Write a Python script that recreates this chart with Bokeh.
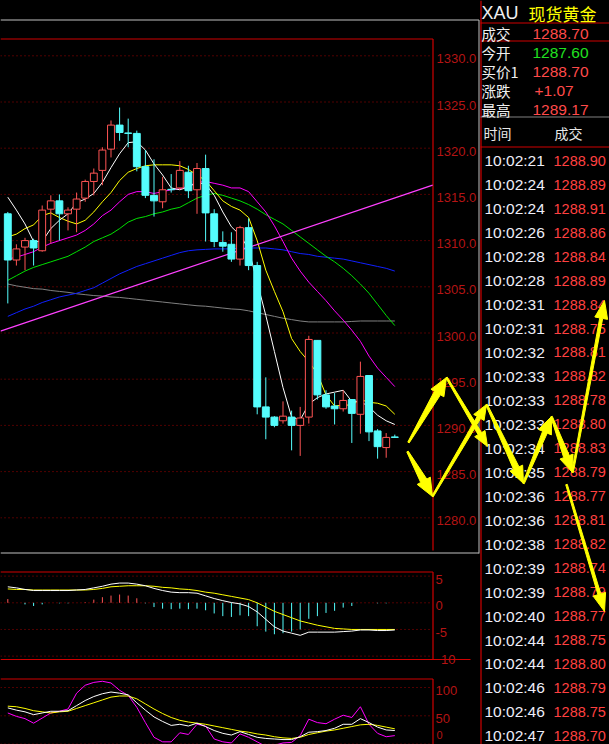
import numpy as np
from bokeh.plotting import figure
from bokeh.models import Range1d, GlobalInlineStyleSheet
from bokeh.core.properties import value
from bokeh.embed import file_html
from bokeh.resources import INLINE

# ---------------- data ----------------
bar_index = list(range(46))
opens = [1312.9, 1307.9, 1309.3, 1310.0, 1308.9, 1313.4, 1314.3, 1312.9, 1313.4, 1314.6,
         1316.4, 1317.6, 1319.9, 1322.5, 1321.65, 1321.6, 1318.0, 1314.9, 1314.2, 1315.55,
         1315.7, 1317.4, 1315.5, 1317.8, 1312.9, 1309.8, 1309.6, 1308.0, 1311.4, 1307.3,
         1292.0, 1290.9, 1290.5, 1290.9, 1290.0, 1290.9, 1299.2, 1293.3, 1292.1, 1291.8,
         1292.8, 1291.2, 1295.4, 1289.4, 1287.6, 1288.75]
closes = [1307.9, 1309.1, 1310.0, 1309.2, 1313.3, 1314.3, 1312.9, 1313.3, 1314.5, 1316.4,
          1317.3, 1319.8, 1322.5, 1321.7, 1321.6, 1318.0, 1314.9, 1314.3, 1315.5, 1315.5,
          1317.6, 1315.4, 1317.8, 1313.0, 1309.9, 1309.4, 1308.0, 1311.4, 1307.3, 1292.0,
          1290.9, 1290.0, 1291.0, 1290.0, 1290.8, 1299.3, 1293.3, 1292.0, 1291.8, 1292.7,
          1291.3, 1295.3, 1289.3, 1287.7, 1288.7, 1288.7]
highs = [1313.1, 1309.6, 1310.3, 1310.2, 1313.8, 1314.9, 1315.0, 1313.6, 1315.2, 1316.6,
         1317.8, 1320.1, 1323.0, 1324.4, 1323.2, 1321.9, 1319.8, 1318.8, 1316.9, 1317.2,
         1318.6, 1318.1, 1318.4, 1319.3, 1313.4, 1311.0, 1310.9, 1311.6, 1312.4, 1307.7,
         1295.2, 1291.0, 1292.6, 1291.6, 1292.0, 1299.7, 1299.2, 1293.8, 1293.5, 1293.8,
         1292.8, 1296.9, 1295.4, 1289.6, 1289.17, 1289.0]
lows = [1303.2, 1307.3, 1306.8, 1307.3, 1308.8, 1309.7, 1310.0, 1311.1, 1310.9, 1314.2,
        1314.9, 1316.0, 1319.0, 1320.8, 1320.1, 1317.5, 1314.6, 1312.6, 1313.5, 1315.2,
        1315.5, 1314.6, 1312.9, 1309.9, 1309.3, 1308.8, 1307.7, 1307.3, 1306.8, 1291.2,
        1288.5, 1289.8, 1290.2, 1287.3, 1286.7, 1290.2, 1292.8, 1291.8, 1290.1, 1291.5,
        1288.1, 1289.1, 1288.3, 1286.4, 1286.5, 1288.7]

ma5 = [1314.7, 1313.3, 1311.8, 1309.9, 1309.9, 1311.3, 1312.2, 1312.9, 1314.1, 1314.5,
       1315.1, 1316.3, 1317.9, 1319.4, 1320.6, 1320.7, 1319.8, 1318.3, 1317.1, 1315.7,
       1315.5, 1315.8, 1316.3, 1316.1, 1314.9, 1313.1, 1311.5, 1310.6, 1309.1, 1305.5,
       1301.9, 1298.0, 1294.1, 1290.9, 1290.6, 1292.3, 1293.0, 1293.4, 1293.6, 1293.8,
       1292.6, 1292.6, 1292.0, 1291.1, 1290.5, 1290.1]
ma10 = [1310.4, 1310.7, 1311.3, 1311.7, 1312.7, 1313.0, 1312.5, 1312.1, 1311.8, 1312.2,
        1313.1, 1314.2, 1315.2, 1316.5, 1317.4, 1317.8, 1318.1, 1318.2, 1318.2, 1318.2,
        1318.1, 1317.7, 1317.1, 1316.5, 1315.4, 1314.3, 1313.7, 1313.3, 1312.5, 1310.0,
        1306.8, 1304.5, 1302.3, 1299.4, 1298.0, 1296.9, 1295.6, 1293.3, 1292.1, 1292.2,
        1292.2, 1292.8, 1292.5, 1292.4, 1292.1, 1291.2]
ma20 = [1308.0, 1308.2, 1308.5, 1308.8, 1309.3, 1309.7, 1310.0, 1310.3, 1310.6, 1311.1,
        1311.8, 1312.7, 1313.3, 1314.2, 1315.0, 1315.3, 1315.3, 1315.1, 1315.3, 1315.5,
        1315.6, 1315.9, 1316.3, 1316.4, 1316.2, 1316.0, 1315.7, 1315.7, 1315.3, 1314.2,
        1313.1, 1311.6, 1309.9, 1308.1, 1306.7, 1305.5, 1304.5, 1303.5, 1302.4, 1301.4,
        1300.3, 1299.1, 1297.5, 1296.2, 1295.2, 1294.2]
ma30 = [1305.7, 1306.2, 1306.7, 1307.1, 1307.4, 1307.7, 1308.0, 1308.3, 1308.8, 1309.3,
        1309.9, 1310.3, 1310.7, 1311.3, 1312.0, 1312.4, 1312.6, 1312.9, 1313.1, 1313.4,
        1313.6, 1314.1, 1314.6, 1314.9, 1315.1, 1314.9, 1314.6, 1314.3, 1313.9, 1313.4,
        1312.8, 1312.3, 1311.8, 1311.1, 1310.4, 1309.7, 1309.0, 1308.3, 1307.7, 1307.0,
        1306.2, 1305.3, 1304.3, 1303.1, 1301.9, 1300.8]
ma60 = [1301.8, 1302.2, 1302.6, 1302.9, 1303.3, 1303.6, 1303.9, 1304.1, 1304.3, 1304.6,
        1304.9, 1305.4, 1305.9, 1306.4, 1306.8, 1307.2, 1307.5, 1307.8, 1308.1, 1308.4,
        1308.7, 1308.9, 1309.0, 1309.05, 1309.1, 1309.1, 1309.1, 1309.2, 1309.2, 1309.2,
        1309.2, 1309.1, 1309.0, 1308.8, 1308.6, 1308.5, 1308.3, 1308.2, 1308.1, 1308.0,
        1307.8, 1307.6, 1307.4, 1307.2, 1307.0, 1306.7]
ma120 = [1305.3, 1305.1, 1304.95, 1304.8, 1304.75, 1304.6, 1304.5, 1304.4, 1304.25, 1304.15,
         1304.05, 1304.0, 1303.9, 1303.85, 1303.75, 1303.65, 1303.55, 1303.45, 1303.35, 1303.25,
         1303.15, 1303.05, 1302.95, 1302.9, 1302.8, 1302.7, 1302.6, 1302.55, 1302.4, 1302.2,
         1302.0, 1301.8, 1301.6, 1301.45, 1301.3, 1301.2, 1301.2, 1301.2, 1301.2, 1301.2,
         1301.25, 1301.3, 1301.3, 1301.3, 1301.3, 1301.3]
trend_x = [-0.85, 49.4]
trend_y = [1300.2, 1316.0]

macd_dif = [3.0, 2.8, 2.5, 2.3, 2.3, 2.3, 2.3, 2.3, 2.4, 2.5,
            2.8, 3.1, 3.5, 3.7, 3.7, 3.5, 3.2, 2.7, 2.3, 2.0,
            1.9, 1.9, 1.8, 1.3, 0.8, 0.4, 0.05, -0.2, -0.7, -1.7,
            -3.1, -4.5, -5.3, -5.7, -6.1, -5.5, -5.5, -5.5, -5.5, -5.4,
            -5.3, -5.1, -5.1, -5.2, -5.2, -5.1]
macd_dea = [2.6, 2.5, 2.5, 2.4, 2.4, 2.4, 2.4, 2.4, 2.4, 2.4,
            2.5, 2.7, 3.0, 3.1, 3.2, 3.2, 3.2, 3.1, 2.9, 2.8,
            2.6, 2.5, 2.3, 2.0, 1.8, 1.5, 1.2, 0.9, 0.6, 0.0,
            -0.8, -1.6, -2.2, -2.8, -3.4, -3.8, -4.2, -4.5, -4.8, -4.9,
            -5.0, -5.0, -5.0, -5.0, -5.0, -5.0]
macd_hist = [0.7, 0.0, -0.3, -0.6, -0.3, 0.0, -0.1, -0.1, 0.0, 0.1,
             0.6, 1.05, 1.35, 1.55, 1.35, 0.85, -0.1, -0.8, -1.1, -1.2,
             -1.1, -1.2, -1.1, -1.4, -2.0, -2.5, -2.65, -2.35, -2.5, -4.4,
             -5.4, -5.9, -5.7, -5.4, -5.0, -3.0, -2.5, -1.9, -1.5, -0.9,
             -0.6, 0.0, 0.0, -0.1, -0.1, 0.0]

kdj_k = [64, 60, 57, 52, 55, 58, 58, 59, 68, 77, 84, 89, 92, 90, 87, 73, 60, 48, 40, 33,
         35, 32, 37, 31, 24, 19, 16, 22, 17, 12, 10, 9, 8, 8, 13, 21, 22, 24, 28, 35,
         35, 45, 38, 30, 25, 24]
kdj_d = [67, 66, 63, 59, 57, 55, 57, 58, 63, 68, 73, 78, 83, 85, 85, 80, 71, 62, 54, 47,
         42, 39, 37, 35, 32, 29, 26, 23, 21, 18, 16, 13, 11, 10, 12, 17, 20, 23, 25, 28,
         31, 34, 35, 33, 30, 27]
kdj_j = [55, 49, 45, 37, 46, 55, 58, 62, 90, 104, 109, 111, 108, 95, 86, 65, 38, 12, 4, 4,
         20, 17, 35, 32, 9, 4, 2, 18, 12, 4, -4, -2, 2, 3, 15, 44, 38, 36, 44, 51,
         47, 66, 35, 19, 13, 15]

price_ticks = [1330, 1325, 1320, 1315, 1310, 1305, 1300, 1295, 1290, 1285, 1280]
price_tick_labels = ["1330.0", "1325.0", "1320.0", "1315.0", "1310.0", "1305.0",
                     "1300.0", "1295.0", "1290.0", "1285.0", "1280.0"]
macd_ticks = [5, 0, -5, -10]
macd_tick_labels = ["5", "0", "-5", "10"]
kdj_ticks = [100, 50, 0]
kdj_tick_labels = ["100", "50", "0"]

symbol = "XAU"
symbol_name = "现货黄金"
quote_labels = ["成交", "今开", "买价1", "涨跌", "最高"]
quote_values = ["1288.70", "1287.60", "1288.70", "+1.07", "1289.17"]
quote_up = [True, False, True, True, True]
list_header = ["时间", "成交"]
tick_times = ["10:02:21", "10:02:24", "10:02:24", "10:02:26", "10:02:28", "10:02:28",
              "10:02:31", "10:02:31", "10:02:32", "10:02:33", "10:02:33", "10:02:33",
              "10:02:34", "10:02:35", "10:02:36", "10:02:36", "10:02:38", "10:02:39",
              "10:02:39", "10:02:40", "10:02:44", "10:02:44", "10:02:46", "10:02:46",
              "10:02:47"]
tick_prices = ["1288.90", "1288.89", "1288.91", "1288.86", "1288.84", "1288.89",
               "1288.84", "1288.75", "1288.81", "1288.82", "1288.78", "1288.80",
               "1288.83", "1288.79", "1288.77", "1288.81", "1288.82", "1288.74",
               "1288.79", "1288.77", "1288.75", "1288.80", "1288.79", "1288.75",
               "1288.70"]

# ---------------- styling ----------------
W, H = 609, 744
RED_UP = "#ff5454"
CYAN_DN = "#54fcfc"
FRAME_RED = "#d00000"
GRID_RED = "#a00000"
LABEL_RED = "#b41414"
GRAY = "#c0c0c0"
NUM_FONT = value("Liberation Sans")
CJK_FONT = value("Noto Sans CJK SC")

css = GlobalInlineStyleSheet(css="html,body{margin:0 !important;padding:0;background:#000;overflow:hidden;}")

p = figure(width=W, height=H, x_range=Range1d(0, W), y_range=Range1d(H, 0),
           output_backend="svg", toolbar_location=None, min_border=0,
           x_axis_location=None, y_axis_location=None,
           background_fill_color="black", border_fill_color="black",
           outline_line_color=None, stylesheets=[css])
p.grid.visible = False

# layout scales (pixel geometry of the original panels)
bx0, bdx = 7.3, 8.6           # bar centre in px
py0, ppu, pref = 55.3, 9.24, 1330.0   # price axis
my0, mpu = 602.3, 5.333       # macd zero & px per unit
ky0, kpu = 743.6, 0.566       # kdj zero & px per unit
ry0, rdy = 160.3, 23.96       # tick list rows
qy0, qdy = 33.3, 19.0         # quote rows

p.extra_x_ranges = {"bar": Range1d(-bx0 / bdx, (W - bx0) / bdx)}
p.extra_y_ranges = {
    "price": Range1d(pref - (H - py0) / ppu, pref + py0 / ppu),
    "macd": Range1d((my0 - H) / mpu, my0 / mpu),
    "kdj": Range1d((ky0 - H) / kpu, ky0 / kpu),
    "rows": Range1d((H - ry0) / rdy, -ry0 / rdy),
    "quote": Range1d((H - qy0) / qdy, -qy0 / qdy),
}

# ---------------- frames / separators ----------------
p.segment(x0=[0, 478.5, 0], y0=[19.5, 19.5, 552.5],
          x1=[478.5, 478.5, 478.5], y1=[19.5, 553, 552.5],
          line_color=GRAY, line_width=1)
# red panel borders
p.segment(x0=[0, 432.5, 0, 432.5, 0, 0, 432.5, 480.5],
          y0=[38.5, 38.5, 571.5, 571.5, 659, 678.5, 678.5, 0],
          x1=[432.5, 432.5, 432.5, 432.5, 470, 432.5, 432.5, 480.5],
          y1=[38.5, 550, 571.5, 659, 659, 678.5, 744, 744],
          line_color=FRAME_RED, line_width=1.2)
# right panel lines
p.segment(x0=[480, 480, 480, 480], y0=[22.5, 40.5, 116.5, 146.5],
          x1=[609, 609, 609, 609], y1=[22.5, 40.5, 116.5, 146.5],
          line_color=[FRAME_RED, FRAME_RED, "#808080", FRAME_RED], line_width=1.2)

# ---------------- gridlines & tick labels ----------------
p.segment(x0=0, x1=430, y0=price_ticks, y1=price_ticks, y_range_name="price",
          line_color=GRID_RED, line_dash="1 3", line_width=1)
p.text(x=436, y=price_ticks, text=price_tick_labels, y_range_name="price",
       text_color=LABEL_RED, text_font=NUM_FONT, text_font_size="13px",
       text_baseline="middle", y_offset=3)

p.segment(x0=0, x1=430, y0=macd_ticks, y1=macd_ticks, y_range_name="macd",
          line_color=GRID_RED, line_dash="1 3", line_width=1)
p.text(x=[435, 435, 435, 440.5], y=macd_ticks, text=macd_tick_labels, y_range_name="macd",
       text_color=LABEL_RED, text_font=NUM_FONT, text_font_size="13px",
       text_baseline="middle", y_offset=3)

p.segment(x0=0, x1=430, y0=kdj_ticks, y1=kdj_ticks, y_range_name="kdj",
          line_color=GRID_RED, line_dash="1 3", line_width=1)
p.text(x=435, y=kdj_ticks[:2], text=kdj_tick_labels[:2], y_range_name="kdj",
       text_color=LABEL_RED, text_font=NUM_FONT, text_font_size="13px",
       text_baseline="middle", y_offset=3)
p.text(x=436, y=kdj_ticks[2:], text=kdj_tick_labels[2:], y_range_name="kdj",
       text_color=LABEL_RED, text_font=NUM_FONT, text_font_size="11px",
       text_baseline="bottom", y_offset=-5)

# ---------------- moving averages & trend line ----------------
ma_sets = [(ma120, "#808080"), (ma60, "#1020ff"), (ma30, "#00e000"),
           (ma20, "#ff00ff"), (ma10, "#ffff00"), (ma5, "#ffffff")]
for vals, col in ma_sets:
    p.line(bar_index, vals, x_range_name="bar", y_range_name="price",
           line_color=col, line_width=1)
p.line(trend_x, trend_y, x_range_name="bar", y_range_name="price",
       line_color="#ff40ff", line_width=1.2)

# ---------------- candlesticks ----------------
up = [c > o for o, c in zip(opens, closes)]
ccol = [RED_UP if u else CYAN_DN for u in up]
cfill = ["black" if u else CYAN_DN for u in up]
tops = [max(o, c) for o, c in zip(opens, closes)]
bots = [min(o, c) for o, c in zip(opens, closes)]
p.segment(x0=bar_index, x1=bar_index, y0=lows, y1=highs, x_range_name="bar",
          y_range_name="price", line_color=ccol, line_width=1)
p.vbar(x=bar_index, width=0.8, top=tops, bottom=bots, x_range_name="bar",
       y_range_name="price", fill_color=cfill, line_color=ccol, line_width=1)

# ---------------- MACD ----------------
hcol = [RED_UP if h > 0 else CYAN_DN for h in macd_hist]
p.segment(x0=bar_index, x1=bar_index, y0=0, y1=macd_hist, x_range_name="bar",
          y_range_name="macd", line_color=hcol, line_width=1)
p.line(bar_index, macd_dea, x_range_name="bar", y_range_name="macd",
       line_color="#ffff00", line_width=1)
p.line(bar_index, macd_dif, x_range_name="bar", y_range_name="macd",
       line_color="#ffffff", line_width=1)

# ---------------- KDJ ----------------
p.line(bar_index, kdj_j, x_range_name="bar", y_range_name="kdj",
       line_color="#ff00ff", line_width=1)
p.line(bar_index, kdj_d, x_range_name="bar", y_range_name="kdj",
       line_color="#ffff00", line_width=1)
p.line(bar_index, kdj_k, x_range_name="bar", y_range_name="kdj",
       line_color="#ffffff", line_width=1)

# ---------------- right quote panel ----------------
p.text(x=[481], y=[12.5], text=[symbol], text_color="#f0f0f0", text_font=NUM_FONT,
       text_font_size="18px", text_baseline="middle")
p.text(x=[528], y=[12.5], text=[symbol_name], text_color="#ffff00", text_font=CJK_FONT,
       text_font_size="17px", text_baseline="middle")
qrows = list(range(len(quote_labels)))
p.text(x=481, y=qrows, text=quote_labels, y_range_name="quote", text_color="#f0f0f0",
       text_font=CJK_FONT, text_font_size="14.5px", text_baseline="middle")
p.text(x=[532, 532, 532, 534, 532], y=qrows, text=quote_values, y_range_name="quote",
       text_color=["#ff4a4a" if u else "#20e020" for u in quote_up],
       text_font=NUM_FONT, text_font_size="15.5px", text_baseline="middle")
p.text(x=[483, 554], y=[132.5, 132.5], text=list_header, text_color="#e8e8e8",
       text_font=CJK_FONT, text_font_size="14px", text_baseline="middle")
rows = list(range(len(tick_times)))
p.text(x=484, y=rows, text=tick_times, y_range_name="rows", text_color="#eeeef8",
       text_font=NUM_FONT, text_font_size="15.5px", text_baseline="middle")
p.text(x=553, y=rows, text=tick_prices, y_range_name="rows", text_color="#ff4040",
       text_font=NUM_FONT, text_font_size="14.5px", text_baseline="middle")

# ---------------- hand-drawn yellow arrows (annotation overlay) ----------------
def arrow_poly(a, b, hl, hw, sw):
    a = np.asarray(a, float); b = np.asarray(b, float)
    d = b - a; u = d / np.hypot(*d); n = np.array([-u[1], u[0]])
    base = b - u * hl
    pts = [a + n * 0.8, base + n * sw / 2, base + n * hw / 2, b,
           base - n * hw / 2, base - n * sw / 2, a - n * 0.8]
    return [float(q[0]) for q in pts], [float(q[1]) for q in pts]

arrow_specs = [((408, 442), (446, 377), 18, 15, 7),
               ((407, 451), (432, 496), 18, 15, 7),
               ((446, 377), (487, 446), 15, 12, 4),
               ((432, 496), (486, 404), 15, 12, 4),
               ((486, 404), (523, 483), 17, 14, 6),
               ((523, 483), (551, 416), 17, 14, 5),
               ((551, 416), (572, 472), 17, 14, 6),
               ((572, 472), (604, 300), 18, 13, 3),
               ((566, 484), (604, 611), 18, 13, 3)]
axs, ays = [], []
for a, b, hl, hw, sw in arrow_specs:
    xs, ys = arrow_poly(a, b, hl, hw, sw)
    axs.append(xs); ays.append(ys)
p.patches(axs, ays, fill_color="#ffff00", line_color="#ffff00", line_width=1)

open("out.html", "w").write(file_html(p, INLINE))
